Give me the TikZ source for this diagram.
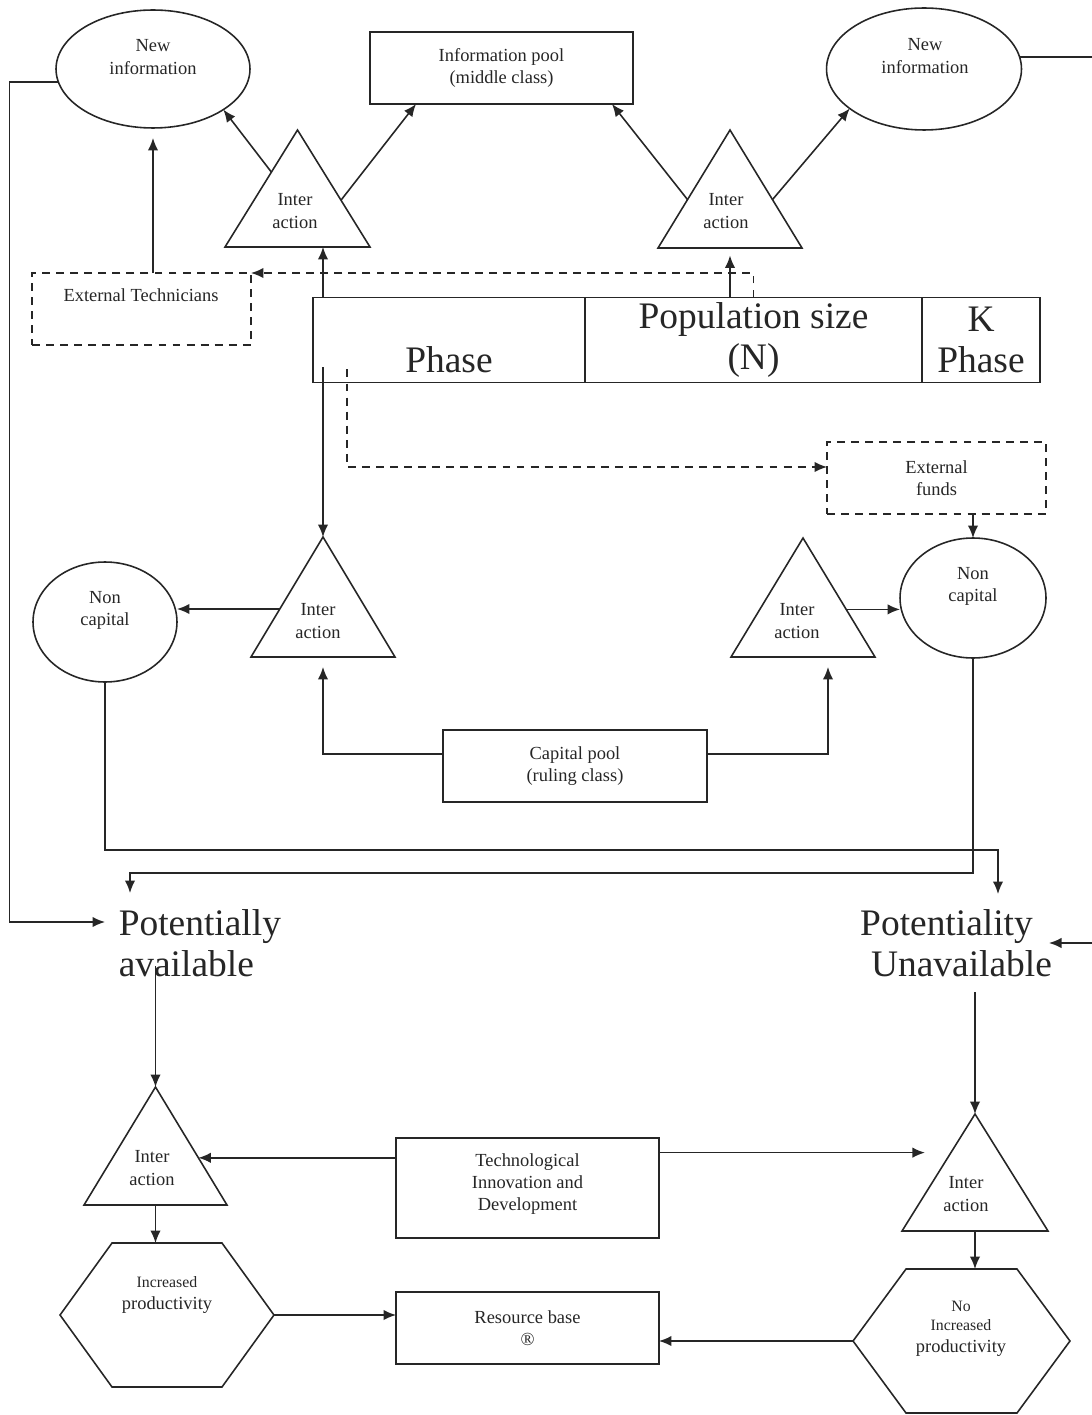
\documentclass[tikz,border=0pt]{standalone}
\usepackage{fontspec}
\setmainfont{Liberation Serif}
\usepackage{xcolor}
\usepackage{tikz}
\usetikzlibrary{arrows.meta,shapes.geometric,calc}

\tikzset{
	oval/.style={draw,ellipse,inner sep=0pt,outer sep=0pt},
	box/.style={draw,rectangle,outer sep=0pt,align=center,minimum width=5.26cm,minimum height=1.44cm},
	dbox/.style={box,dsh,minimum width=4.38cm},
	tri/.style={rectangle,inner sep=0pt,outer sep=0pt,minimum width=2.88cm,minimum height=2.36cm},
	hexa/.style={rectangle,inner sep=0pt,outer sep=0pt,minimum height=2.88cm},
	cell/.style={draw,rectangle,outer sep=0pt,inner sep=1pt,align=center,minimum height=1.7cm,font=\fontsize{21.3}{23.8}\selectfont},
	lbl/.style={align=center},
	big/.style={align=center,inner sep=0pt,font=\fontsize{21.3}{23.3}\selectfont},
	arr/.style={-{Latex[length=2.5mm,width=2.1mm]}},
	dsh/.style={dash pattern=on 4.5pt off 3.5pt}
}

\begin{document}
\begin{tikzpicture}[x=0.02cm,y=-0.02cm,color=black!85,line width=0.9pt,font=\fontsize{10.5}{12.6}\selectfont]
	\useasboundingbox (0,0) rectangle (1091,1415);

	% top row
	\node[oval,minimum width=3.88cm,minimum height=2.36cm] (newL) at (153,69) {};
	\node[lbl] (newLt) at (153,57) {New\\information};
	\node[box] (pool) at (501.5,68) {Information pool\\(middle class)};
	\node[oval,minimum width=3.9cm,minimum height=2.44cm] (newR) at (924,69) {};
	\node[lbl] (newRt) at (925,56) {New\\information};
	\node[tri,minimum width=2.9cm,minimum height=2.34cm] (triA) at (297.5,188.5) {};
	\node[lbl] (triAt) at (295,211) {Inter\\action};
	\node[tri] (triB) at (730,189) {};
	\node[lbl] (triBt) at (726,211) {Inter\\action};
	\node[dbox] (extT) at (141.5,309) {};
	\node[lbl] (extTt) at (141,295) {External Technicians};

	% population table
	\node[cell,minimum width=5.44cm] (phaseA) at (449,340) {\phantom{K}\\Phase};
	\node[cell,minimum width=6.74cm] (popN) at (753.5,340) {Population size\\(N)};
	\node[cell,minimum width=2.36cm] (kph) at (981,340) {K\\Phase};

	% middle
	\node[dbox] (extF) at (936.5,478) {External\\funds};
	\node[oval,minimum width=2.88cm,minimum height=2.4cm] (ncL) at (105,622) {};
	\node[lbl] (ncLt) at (105,610) {Non\\capital};
	\node[tri,minimum height=2.4cm] (triC) at (323,597) {};
	\node[lbl] (triCt) at (318,621) {Inter\\action};
	\node[tri,minimum height=2.38cm] (triD) at (803,597.5) {};
	\node[lbl] (triDt) at (797,621) {Inter\\action};
	\node[oval,minimum width=2.92cm,minimum height=2.4cm] (ncR) at (973,598) {};
	\node[lbl] (ncRt) at (973,586) {Non\\capital};
	\node[box,minimum width=5.28cm] (cap) at (575,766) {Capital pool\\(ruling class)};

	% bottom
	\node[big,anchor=west,align=left] (potA) at (118,943) {Potentially\\available};
	\node[big] (potU) at (961.5,943) {Potentiality\rule{0.6cm}{0pt}\\Unavailable};
	\node[tri,minimum width=2.86cm] (triE) at (155.5,1146) {};
	\node[lbl] (triEt) at (152,1168) {Inter\\action};
	\node[box,minimum height=2cm] (tech) at (527.5,1188) {Technological\\Innovation and\\Development\\[-6pt]\mbox{}};
	\node[tri,minimum width=2.92cm,minimum height=2.34cm] (triF) at (975,1172.5) {};
	\node[lbl] (triFt) at (966,1194) {Inter\\action};
	\node[hexa,minimum width=4.28cm] (incL) at (167,1315) {};
	\node[lbl] (incLt) at (167,1295) {{\fontsize{9}{10}\selectfont Increased}\\productivity};
	\node[box] (res) at (527.5,1328) {Resource base\\\textregistered};
	\node[hexa,minimum width=4.34cm] (incR) at (961.5,1341) {};
	\node[lbl] (incRt) at (961,1329) {{\fontsize{9}{10}\selectfont No}\\[-2pt]{\fontsize{9}{10}\selectfont Increased}\\productivity};

	\foreach \tr in {triA,triB,triC,triD,triE,triF}
		\draw (\tr.south west) -- (\tr.north) -- (\tr.south east) -- cycle;
	\foreach \hx/\d in {incL/1.04cm,incR/1.06cm}
		\draw (\hx.west) -- ([xshift=\d]\hx.north west) -- ([xshift=-\d]\hx.north east) -- (\hx.east)
			-- ([xshift=-\d]\hx.south east) -- ([xshift=\d]\hx.south west) -- cycle;

	\coordinate (aL) at ($(triA.north)!0.36!(triA.south west)$);
	\coordinate (aR) at ($(triA.north)!0.6!(triA.south east)$);
	\coordinate (bL) at ($(triB.north)!0.59!(triB.south west)$);
	\coordinate (bR) at ($(triB.north)!0.59!(triB.south east)$);
	\coordinate (cL) at ($(triC.north)!0.6!(triC.south west)$);
	\coordinate (dR) at ($(triD.north)!0.6!(triD.south east)$);
	\coordinate (eR) at ($(triE.north)!0.6!(triE.south east)$);
	\coordinate (fL) at ($(triF.north)!0.33!(triF.south west)$);
	\coordinate (inU) at (998,894);
	\coordinate (inA) at (130,893);
	\coordinate (inAl) at (105,922);
	\coordinate (inUr) at (1049,943);
	\coordinate (outA) at (155.5,966);
	\coordinate (outU) at (975,992);

	\draw[arr] (aL) -- (newL.-30);
	\draw[arr] (aR) -- ($(pool.south west)!0.175!(pool.south east)$);
	\draw[arr] (bL) -- ($(pool.south west)!0.92!(pool.south east)$);
	\draw[arr] (bR) -- (newR.-152);
	\draw[arr,shorten >=0.2cm] (extT.north -| newL.south) -- (newL.south);
	\draw[arr] (phaseA.north -| triC.north) -- (triA.south -| triC.north);
	\draw[arr,shorten >=0.15cm] (popN.north -| triB.north) -- (triB.south);
	\draw[arr,dsh] (popN.north) |- (extT.north east);
	\draw[arr,dsh] ($(phaseA.south west)+(34,-13)$) |- ($(extF.west)+(0,-11)$);
	\draw[arr] ($(phaseA.south -| triC.north)+(0,-15)$) -- (triC.north);
	\draw[arr] (extF.south -| ncR.north) -- (ncR.north);
	\draw[arr] (cL) -- (cL -| ncL.east);
	\draw[arr] (dR) -- (dR -| ncR.west);
	\draw[arr,shorten >=0.2cm] ($(cap.west)+(0,-12)$) -| (triC.south);
	\draw[arr,shorten >=0.2cm] ($(cap.east)+(0,-12)$) -| ($(triD.south)+(25,0)$);
	\draw[arr] (ncL.south) -- ++(0,168) -| (inU);
	\draw[arr] (ncR.south) -- ++(0,215) -| (inA);
	\draw[arr] (newL.188) -- ++(-49,0) |- (inAl);
	\draw[arr] (newR.7) -- ++(74,0) |- (inUr);
	\draw[arr] (outA) -- (triE.north);
	\draw[arr] (outU) -- (triF.north);
	\draw[arr] (eR -| tech.west) -- (eR);
	\draw[arr,shorten >=0.52cm] (fL -| tech.east) -- (fL);
	\draw[arr] (triE.south) -- (triE.south |- incL.north);
	\draw[arr] (triF.south) -- (triF.south |- incR.north);
	\draw[arr] (incL.east) -- (incL.east -| res.west);
	\draw[arr] (incR.west) -- (incR.west -| res.east);
\end{tikzpicture}
\end{document}
